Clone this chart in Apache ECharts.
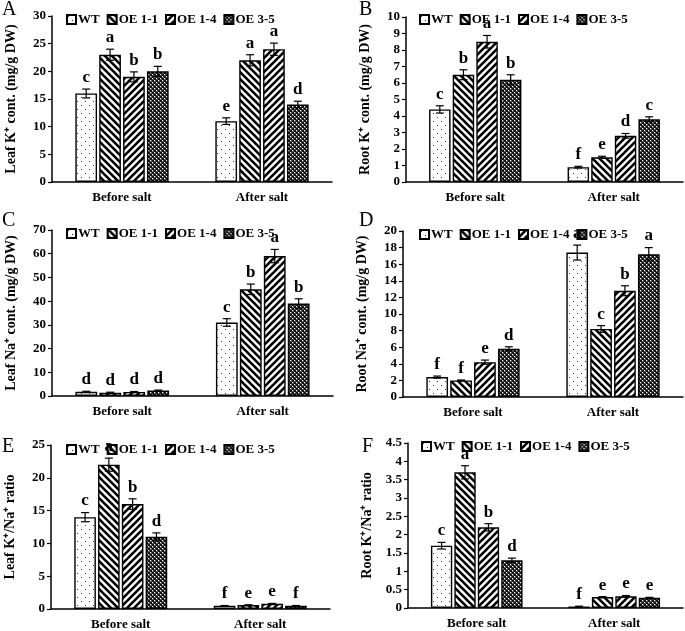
<!DOCTYPE html>
<html><head><meta charset="utf-8">
<script src="https://cdn.jsdelivr.net/npm/echarts@6/dist/echarts.min.js"></script>
<style>html,body{margin:0;padding:0;background:#fff}#c{width:685px;height:631px}</style>
</head><body><div id="c"></div>
<script>
// ---------- DATA ----------
const categories = ['Before salt', 'After salt'];
const lines = ['WT', 'OE 1-1', 'OE 1-4', 'OE 3-5'];

// A: Leaf K+ content [Before, After] per line
const leafK_WT = [16, 11], leafK_OE11 = [23, 22], leafK_OE14 = [19, 24], leafK_OE35 = [20, 14];
const leafK_err = [[0.8, 0.6], [1.0, 1.0], [0.9, 1.1], [0.9, 0.6]];
const leafK_letters = [['c', 'e'], ['a', 'a'], ['b', 'a'], ['b', 'd']];

// B: Root K+ content
const rootK_WT = [4.4, 0.9], rootK_OE11 = [6.5, 1.5], rootK_OE14 = [8.5, 2.8], rootK_OE35 = [6.2, 3.8];
const rootK_err = [[0.22, 0.05], [0.3, 0.06], [0.38, 0.14], [0.3, 0.15]];
const rootK_letters = [['c', 'f'], ['b', 'e'], ['a', 'd'], ['b', 'c']];

// C: Leaf Na+ content
const leafNa_WT = [1.8, 31], leafNa_OE11 = [1.4, 45], leafNa_OE14 = [1.7, 59], leafNa_OE35 = [2.3, 39];
const leafNa_err = [[0.2, 1.6], [0.2, 2.2], [0.2, 2.8], [0.2, 2.0]];
const leafNa_letters = [['d', 'c'], ['d', 'b'], ['d', 'a'], ['d', 'b']];

// D: Root Na+ content
const rootNa_WT = [2.4, 17.4], rootNa_OE11 = [2.0, 8.2], rootNa_OE14 = [4.2, 12.8], rootNa_OE35 = [5.8, 17.2];
const rootNa_err = [[0.12, 0.9], [0.05, 0.4], [0.25, 0.6], [0.25, 0.8]];
const rootNa_letters = [['f', 'a'], ['f', 'c'], ['e', 'b'], ['d', 'a']];

// E: Leaf K+/Na+ ratio
const leafRatio_WT = [14, 0.5], leafRatio_OE11 = [22, 0.6], leafRatio_OE14 = [16, 0.8], leafRatio_OE35 = [11, 0.5];
const leafRatio_err = [[0.7, 0.03], [1.0, 0.04], [0.8, 0.05], [0.6, 0.03]];
const leafRatio_letters = [['c', 'f'], ['a', 'e'], ['b', 'e'], ['d', 'f']];

// F: Root K+/Na+ ratio
const rootRatio_WT = [1.7, 0.04], rootRatio_OE11 = [3.7, 0.3], rootRatio_OE14 = [2.2, 0.32], rootRatio_OE35 = [1.3, 0.28];
const rootRatio_err = [[0.09, 0.01], [0.18, 0.01], [0.1, 0.02], [0.06, 0.01]];
const rootRatio_letters = [['c', 'f'], ['a', 'e'], ['b', 'e'], ['d', 'e']];

// axis settings (tick labels)
const yMax = [30, 10, 70, 20, 25, 4.5];
const yInterval = [5, 1, 10, 2, 5, 0.5];
const yTitles = ['Leaf K\u207A cont. (mg/g DW)', 'Root K\u207A cont. (mg/g DW)',
  'Leaf Na\u207A cont. (mg/g DW)', 'Root Na\u207A cont. (mg/g DW)',
  'Leaf K\u207A/Na\u207A ratio', 'Root K\u207A/Na\u207A ratio'];
const panelLetters = ['A', 'B', 'C', 'D', 'E', 'F'];

// ---------- PATTERNS ----------
function mk(w, h, draw) { const c = document.createElement('canvas'); c.width = w; c.height = h; const g = c.getContext('2d'); g.fillStyle = '#fff'; g.fillRect(0, 0, w, h); draw(g); return { image: c, repeat: 'repeat' }; }
const patDots = mk(8, 8, g => { g.fillStyle = '#333'; g.fillRect(1, 1, 1, 1); g.fillRect(5, 5, 1, 1); });
const patBack = mk(7, 7, g => { g.strokeStyle = '#000'; g.lineWidth = 2.6; for (let k = -1; k <= 1; k++) { g.beginPath(); g.moveTo(k * 7 - 2, -2); g.lineTo(k * 7 + 9, 9); g.stroke(); } });
const patFwd = mk(7, 7, g => { g.strokeStyle = '#000'; g.lineWidth = 2.6; for (let k = -1; k <= 1; k++) { g.beginPath(); g.moveTo(k * 7 - 2, 9); g.lineTo(k * 7 + 9, -2); g.stroke(); } });
const patChk = mk(4, 4, g => { g.fillStyle = '#111'; g.fillRect(0, 0, 2, 2); g.fillRect(2, 2, 2, 2); g.fillStyle='#555'; g.fillRect(2,0,2,2); g.fillRect(0,2,2,2); g.fillStyle='#fff'; g.fillRect(2,0,1,1); g.fillRect(0,2,1,1); });
const patterns = [patDots, patBack, patFwd, patChk];

// ---------- LAYOUT ----------
const grids = [
  { left: 52, top: 16, width: 280, height: 166 },
  { left: 406, top: 17, width: 277, height: 165 },
  { left: 52, top: 230, width: 281, height: 166 },
  { left: 403, top: 231, width: 280, height: 166 },
  { left: 51, top: 445, width: 279, height: 166 },
  { left: 408, top: 443, width: 275, height: 165 }
];
const legendPos = [[66, 13], [419, 13], [66, 227], [419, 228], [66, 443], [421, 440]];
const letterPos = [[2, 0], [359, 0], [2, 211], [359, 211], [2, 437], [362, 437]];

const panelMeans = [
  [leafK_WT, leafK_OE11, leafK_OE14, leafK_OE35],
  [rootK_WT, rootK_OE11, rootK_OE14, rootK_OE35],
  [leafNa_WT, leafNa_OE11, leafNa_OE14, leafNa_OE35],
  [rootNa_WT, rootNa_OE11, rootNa_OE14, rootNa_OE35],
  [leafRatio_WT, leafRatio_OE11, leafRatio_OE14, leafRatio_OE35],
  [rootRatio_WT, rootRatio_OE11, rootRatio_OE14, rootRatio_OE35]
];
const panelErr = [leafK_err, rootK_err, leafNa_err, rootNa_err, leafRatio_err, rootRatio_err];
const panelLet = [leafK_letters, rootK_letters, leafNa_letters, rootNa_letters, leafRatio_letters, rootRatio_letters];

const FONT = '"Liberation Serif", "Times New Roman", serif';
const BAR_W = 0.155, GAP = 0.10;

const option = { animation: false, grid: [], xAxis: [], yAxis: [], series: [], legend: [], graphic: [] };
for (let p = 0; p < 6; p++) {
  option.grid.push(Object.assign({ containLabel: false }, grids[p]));
  option.xAxis.push({
    type: 'category', gridIndex: p, data: categories,
    axisLine: { lineStyle: { color: '#000', width: 1.5 } }, axisTick: { show: false },
    axisLabel: { color: '#000', fontFamily: FONT, fontWeight: 'bold', fontSize: 13, margin: 9 }
  });
  option.yAxis.push({
    type: 'value', gridIndex: p, min: 0, max: yMax[p], interval: yInterval[p],
    name: yTitles[p], nameLocation: 'middle', nameGap: 34,
    nameTextStyle: { color: '#000', fontFamily: FONT, fontWeight: 'bold', fontSize: 14 },
    axisLine: { show: true, lineStyle: { color: '#000', width: 1.5 } },
    axisTick: { show: true, length: 4, lineStyle: { color: '#000', width: 1.2 } },
    splitLine: { show: false },
    axisLabel: { color: '#000', fontFamily: FONT, fontWeight: 'bold', fontSize: 13, margin: 6 }
  });
  option.legend.push({
    left: legendPos[p][0], top: legendPos[p][1], padding: 0, itemGap: 7,
    itemWidth: 9, itemHeight: 9, icon: 'rect',
    textStyle: { color: '#000', fontFamily: FONT, fontWeight: 'bold', fontSize: 13, padding: [0, 0, 0, -3] },
    data: lines
  });
  for (let s = 0; s < 4; s++) {
    option.series.push({
      type: 'bar', name: lines[s], xAxisIndex: p, yAxisIndex: p,
      data: panelMeans[p][s], barWidth: (BAR_W * 100) + '%', barGap: (GAP * 100) + '%',
      itemStyle: { color: patterns[s], borderColor: '#000', borderWidth: 1.4 }
    });
  }
  for (let s = 0; s < 4; s++) {
    const means = panelMeans[p][s], errs = panelErr[p][s], lets = panelLet[p][s];
    option.series.push({
      type: 'custom', name: lines[s], xAxisIndex: p, yAxisIndex: p, z: 5,
      data: means.map((v, i) => [i, v, errs[i]]),
      renderItem: function (params, api) {
        const ci = api.value(0), v = api.value(1), e = api.value(2);
        const band = api.size([1, 0])[0];
        const bw = band * BAR_W;
        const off = (s - 1.5) * bw * (1 + GAP);
        const top = api.coord([ci, v + e]);
        const bot = api.coord([ci, Math.max(0, v - e)]);
        const x = top[0] + off;
        const cap = 4;
        const st = { stroke: '#000', lineWidth: 1.2 };
        return {
          type: 'group', children: [
            { type: 'line', shape: { x1: x, y1: top[1], x2: x, y2: bot[1] }, style: st },
            { type: 'line', shape: { x1: x - cap, y1: top[1], x2: x + cap, y2: top[1] }, style: st },
            { type: 'line', shape: { x1: x - cap, y1: bot[1], x2: x + cap, y2: bot[1] }, style: st },
            { type: 'text', style: { x: x, y: top[1] - 3, text: lets[params.dataIndex], textAlign: 'center', textVerticalAlign: 'bottom', fill: '#000', font: 'bold 17px ' + FONT } }
          ]
        };
      }
    });
  }
  option.graphic.push({ type: 'text', left: letterPos[p][0], top: letterPos[p][1], style: { text: panelLetters[p], fill: '#000', font: '20px ' + FONT } });
}
const chart = echarts.init(document.getElementById('c'), null, { renderer: 'canvas' });
chart.setOption(option);
</script></body></html>
